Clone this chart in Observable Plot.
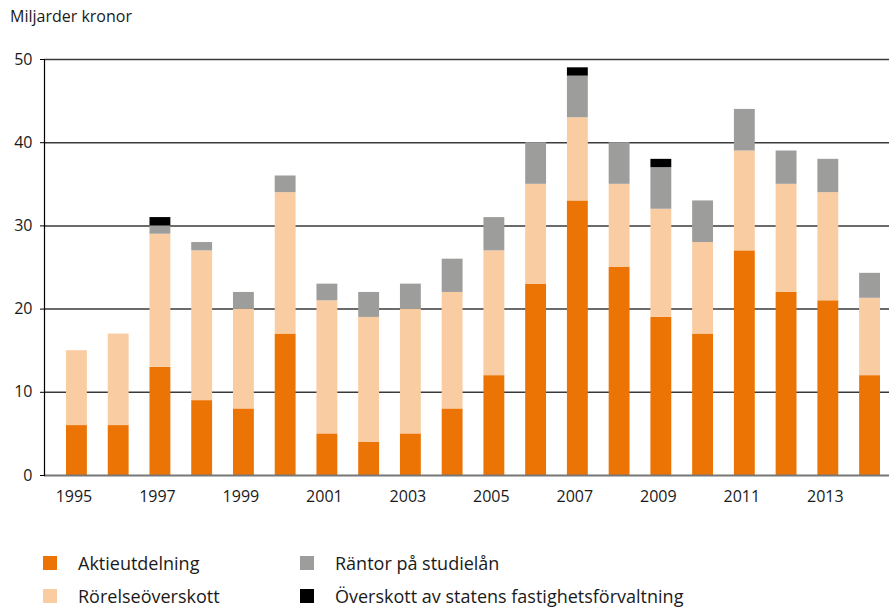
<!DOCTYPE html>
<html>
<head>
<meta charset="utf-8">
<script src="https://cdn.jsdelivr.net/npm/d3@7"></script>
<script src="https://cdn.jsdelivr.net/npm/@observablehq/plot@0.6"></script>
<style>
  body { margin: 0; background: #fff; font-family: "Open Sans", Lato, sans-serif; color: #1a1a1a; }
  #wrap { position: relative; width: 889px; height: 607px; overflow: hidden; }
  #title { position: absolute; left: 10px; top: 5px; font-size: 16px; }
  #chart { position: absolute; left: 0; top: 0; }
  .leg { position: absolute; font-size: 18px; line-height: 20px; display: flex; align-items: center; white-space: nowrap; }
  .sw { width: 14px; height: 14px; margin-right: 21px; }
</style>
</head>
<body>
<div id="wrap">
  <div id="chart"></div>
  <div id="title">Miljarder kronor</div>
  <div id="legend"></div>
</div>
<script>
const years = [1995,1996,1997,1998,1999,2000,2001,2002,2003,2004,2005,2006,2007,2008,2009,2010,2011,2012,2013,2014];
const aktieutdelning = [6,6,13,9,8,17,5,4,5,8,12,23,33,25,19,17,27,22,21,12];
const rorelseoverskott = [9,11,16,18,12,17,16,15,15,14,15,12,10,10,13,11,12,13,13,9.3];
const rantor = [0,0,1,1,2,2,2,3,3,4,4,5,5,5,5,5,5,4,4,3];
const fastighet = [0,0,1,0,0,0,0,0,0,0,0,0,1,0,1,0,0,0,0,0];
const seriesNames = ["Aktieutdelning","Rörelseöverskott","Räntor på studielån","Överskott av statens fastighetsförvaltning"];
const seriesColors = ["#EC7404","#F9CCA2","#9D9D9C","#000000"];
const yTicks = [0,10,20,30,40,50];
const xTickLabels = [1995,1997,1999,2001,2003,2005,2007,2009,2011,2013];

const seriesValues = [aktieutdelning, rorelseoverskott, rantor, fastighet];
const rows = [];
years.forEach((yr, i) => {
  seriesValues.forEach((vals, s) => {
    rows.push({year: yr, series: seriesNames[s], value: vals[i]});
  });
});

const chart = Plot.plot({
  width: 889,
  height: 520,
  marginLeft: 44,
  marginRight: 0,
  marginTop: 59,
  marginBottom: 45,
  style: {fontFamily: "'Open Sans', Lato, sans-serif", fontSize: "16px", color: "#1a1a1a", background: "#fff"},
  x: {type: "band", domain: years, range: [66, 880], paddingInner: 0.5, paddingOuter: 0, align: 0.5, round: false},
  y: {domain: [0, 50]},
  color: {domain: seriesNames, range: seriesColors},
  marks: [
    Plot.ruleY(yTicks.filter(d => d > 0), {stroke: "#3a3a3a", strokeWidth: 1.5}),
    Plot.barY(rows, {x: "year", y: "value", fill: "series", order: seriesNames}),
    Plot.ruleY([0], {stroke: "#777", strokeWidth: 2}),
    Plot.axisY({ticks: yTicks, tickSize: 4, tickPadding: 8, label: null, stroke: "#000", fontSize: 16}),
    Plot.axisX({ticks: xTickLabels, tickSize: 0, tickPadding: 15, label: null, tickFormat: d => String(d), fontSize: 16, dx: -3}),
    Plot.frame({anchor: "left", stroke: "#000", strokeWidth: 1.2})
  ]
});
document.getElementById("chart").appendChild(chart);

const legend = document.getElementById("legend");
const legPos = [[43, 553], [43, 586], [300, 553], [300, 586]];
seriesNames.forEach((name, i) => {
  const d = document.createElement("div");
  d.className = "leg";
  d.style.left = legPos[i][0] + "px";
  d.style.top = legPos[i][1] + "px";
  d.innerHTML = `<span class="sw" style="background:${seriesColors[i]}"></span><span>${name}</span>`;
  legend.appendChild(d);
});
</script>
</body>
</html>
